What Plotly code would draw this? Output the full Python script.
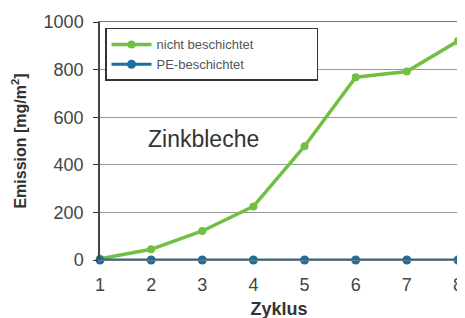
import plotly.graph_objects as go

zyklus = [1, 2, 3, 4, 5, 6, 7, 8]
nicht_beschichtet = [5, 45, 122, 225, 478, 768, 792, 920]
pe_beschichtet = [0, 0, 0, 0, 0, 0, 0, 0]
y_ticks = [0, 200, 400, 600, 800, 1000]
series_names = ["nicht beschichtet", "PE-beschichtet"]

fig = go.Figure()
fig.add_trace(go.Scatter(x=zyklus, y=nicht_beschichtet, name=series_names[0] + "\u00a0" * 16,
                         mode="lines+markers", cliponaxis=False,
                         line=dict(color="#72c043", width=3.5),
                         marker=dict(color="#72c043", size=8)))
fig.add_trace(go.Scatter(x=zyklus, y=pe_beschichtet, name=series_names[1],
                         mode="lines+markers", cliponaxis=False,
                         line=dict(color="#1a6f9e", width=3),
                         marker=dict(color="#1a6f9e", size=9)))

fig.add_annotation(x=0.128, y=0.51, xref="paper", yref="paper", text="Zinkbleche",
                   showarrow=False, xanchor="left", yanchor="middle",
                   font=dict(size=23, color="#333333", family="Liberation Sans, Arial"))

fig.update_layout(
    width=465, height=318,
    margin=dict(l=92, r=15, t=14, b=66, autoexpand=False),
    plot_bgcolor="white", paper_bgcolor="white",
    font=dict(family="Liberation Sans, Arial", color="#333333", size=15),
    legend=dict(x=0.014, y=0.975, xanchor="left", yanchor="top",
                bgcolor="white", bordercolor="#333333", borderwidth=1.5,
                font=dict(size=13, color="#555555"),
                tracegroupgap=0, itemwidth=40),
    showlegend=True,
)
fig.update_xaxes(range=[1, 8], tickvals=zyklus, ticks="", showgrid=False,
                 showline=True, linecolor="#777777", linewidth=1, mirror=True,
                 zeroline=False, ticklabelstandoff=8, automargin=False,
                 title=dict(text="<b>Zyklus</b>", font=dict(size=18), standoff=8),
                 tickfont=dict(size=18, color="#444444"))
fig.update_yaxes(range=[0, 1000], tickvals=y_ticks, ticks="outside", ticklen=5,
                 tickcolor="#333333", showgrid=True, gridcolor="#999999", gridwidth=1,
                 showline=True, linecolor="#444444", linewidth=1.5, mirror=True,
                 zeroline=False, ticklabelstandoff=6, automargin=False,
                 title=dict(text="<b>Emission [mg/m<sup>2</sup>]</b>", font=dict(size=16), standoff=13),
                 tickfont=dict(size=18, color="#444444"))

fig.write_html("out.html")
